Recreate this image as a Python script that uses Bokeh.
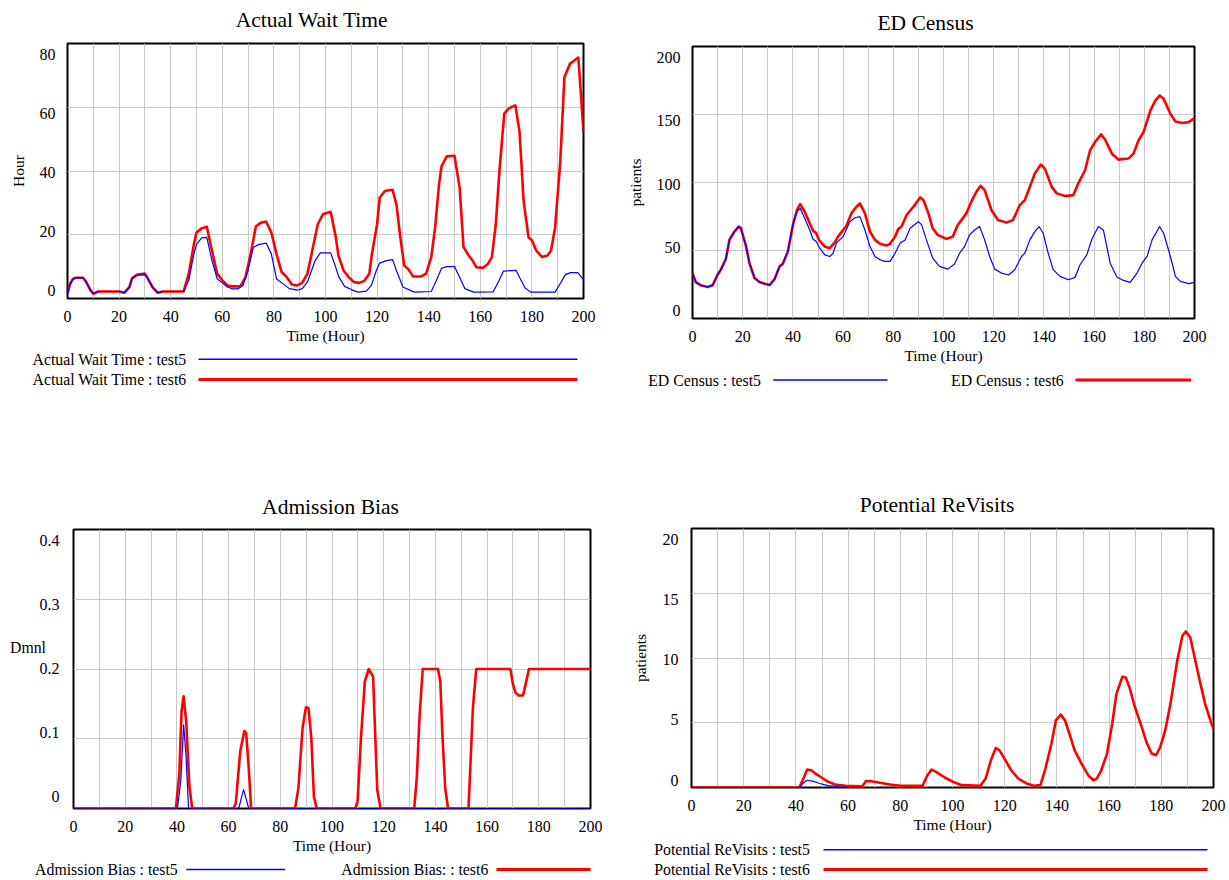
from bokeh.plotting import figure
from bokeh.models import Range1d, FixedTicker
from bokeh.core.properties import value
from bokeh.embed import file_html
from bokeh.resources import INLINE

# ---------------- data (hour, value) ----------------
x_ticks = [0, 20, 40, 60, 80, 100, 120, 140, 160, 180, 200]
x_grid = [10, 20, 30, 40, 50, 60, 70, 80, 90, 100, 110, 120, 130, 140, 150, 160, 170, 180, 190]

# Actual Wait Time (Hour)
wait_test5 = [(0, 1.5), (1, 4.5), (2, 6.0), (3, 6.5), (6, 6.5), (7, 5.5), (9, 2.5), (10, 1.5), (12, 2.2),
              (20, 2.2), (22, 1.8), (24, 3.6), (25, 6.3), (27, 7.3), (30, 7.5), (31, 6.5), (33, 3.5), (35, 1.8),
              (37, 2.2), (45, 2.2), (47, 5.7), (49, 14), (50, 17), (52, 19), (54, 19.2), (56, 11.9), (58, 6.2),
              (60, 4.9), (62, 3.6), (64, 3.0), (66, 3.0), (68, 4.1), (70, 8.8), (72, 16), (74, 16.9), (77, 17.4),
              (79, 14), (81, 6.2), (83, 4.9), (86, 3.1), (89, 2.6), (91, 3.1), (93, 5.2), (96, 11.9), (98, 14.3),
              (102, 14.3), (103.5, 10.9), (105.2, 6.7), (107.4, 3.8), (110, 2.8), (112.6, 2.0), (115.8, 2.3),
              (117.8, 4.1), (119.7, 8.8), (121, 11.1), (123.6, 11.9), (126, 12.2), (127.5, 8.8), (130, 3.6),
              (133.3, 2.4), (134.6, 2.0), (141, 2.2), (143, 5.7), (145, 9.5), (147, 10), (150, 10), (152, 6.7),
              (154, 3.1), (157.4, 2.0), (165, 2.1), (167, 5.2), (169, 8.6), (173.9, 8.8), (175.5, 6.2),
              (177.4, 3.3), (179.6, 2.0), (189, 2.0), (191, 4.7), (193, 7.5), (195, 8.1), (197.8, 8.1), (200, 5.9)]
wait_test6 = [(0, 1.5), (1, 4.5), (2, 6.0), (3, 6.5), (6, 6.5), (7, 5.5), (9, 2.5), (10, 1.5), (12, 2.2),
              (20, 2.2), (22, 1.8), (24, 3.6), (25, 6.3), (27, 7.5), (30, 7.8), (31, 6.5), (33, 3.5), (35, 1.8),
              (37, 2.2), (45, 2.2), (47, 7.8), (49, 17), (50, 20.7), (52, 22), (54, 22.5), (56, 15), (58, 7.8),
              (60, 5.7), (62, 4.1), (64, 3.8), (67, 3.8), (69, 6.7), (71, 14), (73, 22.6), (75, 23.8), (77, 24.1),
              (79, 20.7), (81, 14), (83, 8.3), (85, 6.7), (87, 4.4), (89, 4.1), (91, 4.9), (93, 7.8), (95, 15.5),
              (97, 23.3), (99, 26.4), (102, 27.2), (104, 19.2), (105, 13.5), (107, 8.8), (109, 6.7), (111, 5.2),
              (113, 4.9), (115, 5.5), (117, 7.8), (118, 14), (120, 23.3), (121, 31.6), (123, 33.7), (126, 34.1),
              (127.5, 29.5), (129, 19.2), (130.5, 10.4), (132, 9.3), (134, 6.9), (137, 6.9), (139, 7.8), (141, 13),
              (142.5, 22.3), (144, 35.8), (145, 41.5), (147, 44.6), (150, 44.8), (152, 34.7), (153.5, 16.1),
              (155.5, 13.5), (157, 11.9), (158.5, 9.8), (161, 9.6), (163, 10.9), (164.5, 13), (166, 23.3),
              (167.5, 40.9), (169.3, 58), (171, 59.6), (173.6, 60.6), (175.2, 52.3), (176.8, 30.6), (178.7, 19.2),
              (180, 18.3), (181.7, 15), (184, 13), (186, 13.5), (187.4, 15), (189, 22.3), (191, 43), (192.6, 69.4),
              (194.7, 73.6), (198, 75.6), (200, 52.3)]

# ED Census (patients)
census_test5 = [(0, 33.4), (1.3, 26.8), (3.3, 24.4), (6, 23.2), (8, 24.4), (10, 32.2), (11.3, 35.9), (13.3, 43.7),
                (14.7, 57.8), (16.7, 63.9), (18.4, 67.6), (19.3, 66.3), (21.3, 53.4), (22.7, 40.7), (24.7, 29.8),
                (26.7, 26.8), (28.7, 25.6), (30.7, 24.6), (32.7, 29), (34.7, 38.3), (36, 40.2), (38, 49.3),
                (40, 68.8), (41.6, 78.5), (42.9, 81), (44.7, 73.7), (46.7, 65.1), (48, 58.5), (49.3, 56.6),
                (50.7, 51.7), (52.7, 46.8), (54.7, 45.6), (56, 48), (57.3, 55.4), (60, 60.2), (62.7, 71.2),
                (64.7, 74.1), (66.7, 74.9), (68.7, 65.1), (70.7, 52.9), (72.7, 45.6), (74.7, 43.2), (76.7, 42),
                (78.7, 42), (80.7, 48), (82.7, 55.4), (84.7, 57.8), (86.7, 66.3), (90, 71.2), (91.3, 68.8),
                (93.2, 57.8), (95.7, 44.4), (98.4, 38.3), (101.7, 36.3), (104.4, 40), (106.4, 48), (108.4, 52.9),
                (110.4, 61.5), (112.4, 65.1), (114.4, 67.6), (116.4, 57.8), (118.4, 45.6), (120.4, 36.3),
                (123.1, 33.4), (126, 32), (128.4, 35.9), (131.1, 45.6), (132.4, 48), (134.4, 57.8), (136.4, 63.9),
                (138.1, 67.6), (139.7, 62.7), (141.7, 48), (143.7, 35.9), (146.4, 31), (149.7, 28.5), (152.4, 30.2),
                (154.4, 39.5), (157.1, 46.8), (159.1, 58.3), (161.7, 67.6), (163.7, 65.1), (166.4, 40.7),
                (169.1, 30.5), (171.7, 28), (174.4, 26.6), (177.1, 33.4), (179.1, 40.7), (181.1, 45.6),
                (183.1, 57.8), (186.1, 67.6), (187.7, 62.7), (190.4, 45.6), (192.4, 31), (194.4, 27.3),
                (197.7, 25.6), (200, 26.6)]
census_test6 = [(0, 33.4), (1.3, 26.8), (3.3, 24.4), (6, 23.2), (8, 24.4), (10, 32.2), (11.3, 35.9), (13.3, 43.7),
                (14.7, 57.8), (16.7, 63.9), (18.4, 67.6), (19.3, 66.3), (21.3, 53.4), (22.7, 40.7), (24.7, 29.8),
                (26.7, 26.8), (28.7, 25.6), (30.7, 24.6), (32.7, 29), (34.7, 38.3), (36, 40.2), (38, 49.3),
                (40, 68.8), (41.6, 79.8), (42.9, 84.1), (44.7, 78.5), (46.7, 70), (48, 64.6), (49.3, 62.7),
                (50.4, 57.8), (52.7, 52.9), (54.7, 51.7), (56.7, 55.9), (58, 60.2), (60, 65.1), (61.3, 68),
                (63.3, 77.3), (65.3, 82.2), (66.7, 84.6), (68.7, 77.3), (70.7, 63.9), (72.7, 57.8), (74.7, 54.9),
                (77.3, 53.7), (78.7, 54.9), (80.7, 60.2), (82, 65.9), (83.3, 67.6), (85.3, 76.1), (88, 82.2),
                (90.7, 89), (92, 87.1), (94, 77.3), (95.7, 66.3), (97.7, 61.5), (101.1, 58.5), (103.7, 60.2),
                (105.7, 68.8), (109.1, 77.3), (111.1, 85.9), (113.1, 93.2), (114.8, 97.6), (116.4, 94.4),
                (119.1, 79.8), (121.7, 72.4), (125.1, 70.5), (127.7, 72.4), (130.4, 83.4), (132.4, 87.1),
                (134.4, 96.8), (136.4, 106.6), (138.8, 113.2), (140.4, 110.2), (143.1, 96.8), (145.1, 92),
                (148.4, 90), (151.7, 90.7), (153.7, 99.3), (156.4, 109), (158.4, 123.7), (160.4, 129.8),
                (162.8, 135.4), (164.4, 131.5), (167.1, 121.2), (169.7, 116.8), (173.7, 117.6), (175.7, 121.2),
                (177.7, 131), (179.7, 137.1), (182.4, 152.9), (184.4, 160.2), (186.1, 163.9), (187.7, 161.5),
                (190.4, 150.5), (192.4, 144.9), (195.1, 143.7), (197.7, 144.4), (200, 147.3)]

# Admission Bias (Dmnl)
bias_test5 = [(0, 0), (40.2, 0), (41.5, 0.039), (42.6, 0.12), (43.5, 0.077), (44.5, 0), (63.9, 0), (65.8, 0.027),
              (67.8, 0), (200, 0)]
bias_test6 = [(0, 0), (39.6, 0), (40.9, 0.048), (41.8, 0.139), (42.6, 0.161), (43.6, 0.125), (44.8, 0.034),
              (45.9, 0), (61.9, 0), (62.8, 0.008), (64.5, 0.082), (66.1, 0.111), (66.8, 0.108), (67.8, 0.058),
              (68.7, 0), (85.7, 0), (87, 0.029), (88.6, 0.115), (89.9, 0.145), (90.9, 0.144), (92, 0.101),
              (93, 0.017), (94.1, 0), (109, 0), (109.9, 0.01), (111.2, 0.101), (112.7, 0.182), (114.2, 0.2),
              (115.9, 0.189), (117.5, 0.027), (118.8, 0), (131.8, 0), (132.8, 0.044), (133.9, 0.134), (135.1, 0.2),
              (141, 0.2), (141.9, 0.182), (142.7, 0.106), (143.8, 0.029), (144.9, 0), (152.8, 0), (153.6, 0.067),
              (154.5, 0.144), (155.8, 0.2), (169, 0.2), (170, 0.178), (171, 0.166), (172.3, 0.162),
              (173.9, 0.162), (174.9, 0.178), (176.2, 0.2), (200, 0.2)]

# Potential ReVisits (patients)
revisit_test5 = [(0, 0), (41.5, 0), (42.6, 0.31), (44.3, 0.56), (46.5, 0.49), (49.1, 0.31), (52.4, 0.15),
                 (56.4, 0.05), (60.3, 0), (200, 0)]
revisit_test6 = [(0, 0), (41.3, 0), (42.6, 0.56), (44.3, 1.38), (45.9, 1.33), (47.8, 1.03), (49.8, 0.77),
                 (52.4, 0.44), (55, 0.23), (59, 0.13), (65.5, 0.1), (66.8, 0.49), (68.8, 0.49), (72.1, 0.36),
                 (76, 0.23), (80, 0.13), (88.5, 0.13), (90.4, 0.95), (92, 1.38), (93.7, 1.2), (97, 0.77),
                 (100.9, 0.38), (103.5, 0.18), (110.7, 0.13), (112.7, 0.69), (114.7, 2.1), (116.6, 3.05),
                 (118, 2.87), (119.9, 2.23), (122.5, 1.33), (125.2, 0.69), (128.4, 0.31), (131.1, 0.13),
                 (133.7, 0.18), (135.6, 1.46), (137.9, 3.38), (139.6, 5.18), (141.5, 5.64), (143.1, 5.18),
                 (144.8, 4.15), (146.8, 2.87), (149.4, 1.85), (152, 0.95), (154, 0.56), (155.3, 0.69), (157, 1.33),
                 (159.2, 2.62), (161.2, 4.92), (162.8, 7.23), (165.1, 8.56), (166.4, 8.5), (167.8, 7.74),
                 (169.7, 6.33), (172.3, 4.79), (174.3, 3.51), (176.3, 2.62), (178, 2.49), (179.6, 3.13),
                 (181.5, 4.41), (183.5, 6.46), (186.1, 9.79), (188.1, 11.72), (189.4, 12.05), (191.1, 11.59),
                 (192.9, 9.92), (195, 8), (196.8, 6.46), (198.8, 5.18), (200, 4.54)]

wait_labels = [80, 60, 40, 20, 0]
census_labels = [200, 150, 100, 50, 0]
bias_labels = [0.4, 0.3, 0.2, 0.1, 0]
revisit_labels = [20, 15, 10, 5, 0]

# ---------------- styling ----------------
SERIF = "Liberation Serif"
BLUE = "#0000ff"
RED = "#ff0000"
GRID = "#c8c8c8"
BORDER = (80, 10, 20, 55)   # generous canvas margins around each frame: left, top, right, bottom


def place(fig, left, top):
    """Each chart is its own root, pinned at its spot on the page."""
    fig.styles = {"position": "absolute", "left": "%dpx" % left, "top": "%dpx" % top}
    return fig


def label_positions(labels, lo, hi, frame_px, top_off, bot_off):
    """Vensim spreads its y labels a little inside the frame; place the ticks likewise."""
    span = frame_px - top_off - bot_off
    return [lo + (bot_off + (v - lo) / (hi - lo) * span) / frame_px * (hi - lo) for v in labels]


def panel(ylabel, lo, hi, ygrid, labels, s5, s6, frame, offs, ylab_standoff, yaxis_lab_standoff, right=None):
    L, T, R, B = frame
    bl, bt, br, bb = BORDER
    if right is not None:
        br = right
    p = figure(width=bl + (R - L) + br, height=bt + (B - T) + bb,
               x_range=Range1d(0, 200), y_range=Range1d(lo, hi), title=None,
               output_backend="svg", toolbar_location=None,
               min_border_left=bl, min_border_right=br, min_border_top=bt, min_border_bottom=bb)
    p.outline_line_color = "black"
    p.outline_line_width = 2
    p.background_fill_color = "white"
    p.border_fill_alpha = 0

    xa = p.xaxis[0]
    xa.ticker = FixedTicker(ticks=x_ticks)
    xa.axis_label = "Time (Hour)"
    ya = p.yaxis[0]
    pos = label_positions(labels, lo, hi, B - T, offs[0], offs[1])
    ya.ticker = FixedTicker(ticks=pos)
    ya.major_label_overrides = {q: ("%g" % v) for q, v in zip(pos, labels)}
    ya.axis_label = ylabel
    for ax in (xa, ya):
        ax.axis_line_color = None
        ax.major_tick_line_color = None
        ax.minor_tick_line_color = None
        ax.major_tick_out = 0
        ax.major_tick_in = 0
        ax.minor_tick_out = 0
        ax.minor_tick_in = 0
        ax.major_label_text_font = SERIF
        ax.major_label_text_font_size = "16px"
        ax.major_label_text_color = "black"
        ax.axis_label_text_font = SERIF
        ax.axis_label_text_font_size = "15.5px"
        ax.axis_label_text_font_style = "normal"
        ax.axis_label_text_color = "black"
    xa.major_label_standoff = 12
    xa.axis_label_standoff = 2
    ya.major_label_standoff = ylab_standoff
    ya.axis_label_standoff = yaxis_lab_standoff

    p.xgrid.ticker = FixedTicker(ticks=x_grid)
    p.ygrid.ticker = FixedTicker(ticks=ygrid)
    for g in (p.xgrid, p.ygrid):
        g.grid_line_color = GRID
        g.grid_line_width = 1

    p.line([t for t, _ in s6], [v for _, v in s6], line_color=RED, line_width=2.6, line_join="round")
    p.line([t for t, _ in s5], [v for _, v in s5], line_color=BLUE, line_width=1.2, line_join="round")
    return place(p, L - bl, T - bt)


def text_fig(left, top, width, height, texts, segs=(), size="15.8px"):
    """Text strip (titles, legends): its ranges are its own pixels."""
    q = figure(width=width, height=height, x_range=Range1d(0, width), y_range=Range1d(height, 0),
               output_backend="svg", toolbar_location=None, x_axis_location=None, y_axis_location=None,
               min_border=0, title=None)
    q.grid.visible = False
    q.outline_line_color = None
    q.background_fill_alpha = 0
    q.border_fill_alpha = 0
    for (tx, ty, s, align) in texts:
        q.text(x=[tx], y=[ty], text=[s], text_font=value(SERIF), text_font_size=size,
               text_baseline="middle", text_align=align, text_color="black")
    for (x0, x1, y, c, w) in segs:
        q.segment(x0=[x0], y0=[y], x1=[x1], y1=[y], line_color=c, line_width=w)
    return place(q, left, top)


def title_fig(cx, cy, text):
    return text_fig(int(cx) - 200, int(cy) - 17, 400, 34, [(200 + cx - int(cx), 17 + cy - int(cy), text, "center")],
                    size="21.5px")


# ---- Actual Wait Time ----
tl = panel("Hour", 0, 80, [20, 40, 60], wait_labels, wait_test5, wait_test6,
           (67, 43, 583, 298), (11, 8), 12, 10)
tl_title = title_fig(311.5, 19, "Actual Wait Time")
tl_leg = text_fig(8, 345, 620, 50,
                  [(24, 14, "Actual Wait Time : test5", "left"), (24, 34, "Actual Wait Time : test6", "left")],
                  [(190, 569, 13.7, BLUE, 1.5), (190, 569, 34, RED, 3)])

# ---- ED Census ----
tr = panel("patients", 0, 200, [50, 100, 150], census_labels, census_test5, census_test6,
           (692, 46, 1194, 318), (11, 8), 12, 10)
tr_title = title_fig(925, 22, "ED Census")
tr_leg = text_fig(628, 365, 593, 30,
                  [(19.7, 15, "ED Census : test5", "left"), (322.5, 15, "ED Census : test6", "left")],
                  [(144.7, 259, 14.5, BLUE, 1.5), (447, 562.6, 14.5, RED, 3)])

# ---- Admission Bias ----
bl = panel(None, 0, 0.4, [0.1, 0.2, 0.3], bias_labels, bias_test5, bias_test6,
           (73, 529, 590, 808), (11, 12), 14, 10)
bl_title = title_fig(330, 506, "Admission Bias")
bl_unit = text_fig(8, 635, 50, 24, [(19.5, 11.7, "Dmnl", "center")])
bl_leg = text_fig(8, 852, 620, 27,
                  [(26.6, 17, "Admission Bias : test5", "left"), (332.8, 17, "Admission Bias: : test6", "left")],
                  [(177.8, 276.6, 17, BLUE, 1.5), (488, 582, 17, RED, 3)])

# ---- Potential ReVisits ----
br = panel("patients", 0, 20, [5, 10, 15], revisit_labels, revisit_test5, revisit_test6,
           (691, 528, 1213, 787), (11, 7.5), 13, 11, right=15)
br_title = title_fig(936.5, 504, "Potential ReVisits")
br_leg = text_fig(628, 830, 600, 49,
                  [(25.7, 19.3, "Potential ReVisits : test5", "left"),
                   (25.7, 39, "Potential ReVisits : test6", "left")],
                  [(195, 579, 19.3, BLUE, 1.5), (195, 579, 39, RED, 3)])

roots = [tl, tr, bl, br, tl_title, tr_title, bl_title, br_title, tl_leg, tr_leg, bl_unit, bl_leg, br_leg]
open("out.html", "w").write(file_html(roots, INLINE, title="Vensim charts"))
